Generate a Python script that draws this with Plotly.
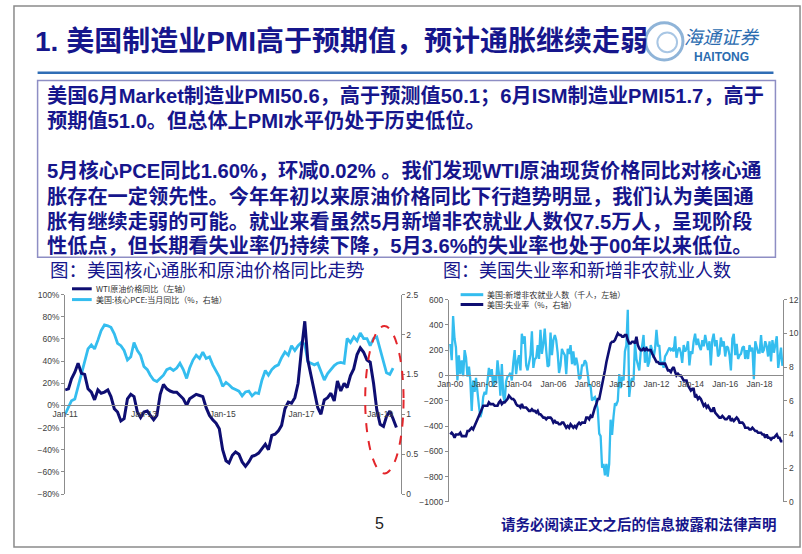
import pandas as pd
import plotly.graph_objects as go

# ---------------- data ----------------
wti_yoy = [14, 15, 24, 30, 38, 29, 28, 15, 12, 5, 14, 11,
           12, 14, 8, -3, -6, -14, -12, 6, 10, 8, -6, -11,
           -6, -5, -9, -13, -9, 10, 19, 15, 13, 12, 12, 9,
           6, 0, 6, 8, 10, 9, 8, -2, -9, -13, -16, -21,
           -40, -50, -52, -45, -42, -44, -51, -55, -51, -46, -45, -43,
           -39, -35, -40, -27, -26, -23, -18, -3, 3, 2, 7, 20,
           50, 76, 41, 26, 14, -2, -8, 5, 7, 11, 4, 22,
           13, 20, 16, 27, 33, 46, 52, 48, 41, 39, 20, -4,
           -17, -19, -10, -5, -12, -20]
core_pce = [1.00, 1.08, 1.17, 1.19, 1.35, 1.51, 1.68, 1.82, 1.87, 1.82, 1.93, 2.05,
            2.12, 2.11, 2.09, 2.01, 1.89, 1.86, 1.80, 1.68, 1.72, 1.90, 1.80, 1.74,
            1.60, 1.56, 1.49, 1.43, 1.41, 1.45, 1.49, 1.56, 1.58, 1.55, 1.58, 1.64,
            1.56, 1.45, 1.58, 1.68, 1.74, 1.70, 1.78, 1.70, 1.72, 1.62, 1.54, 1.47,
            1.35, 1.40, 1.37, 1.33, 1.31, 1.29, 1.23, 1.28, 1.29, 1.23, 1.27, 1.26,
            1.43, 1.55, 1.49, 1.56, 1.60, 1.62, 1.71, 1.78, 1.74, 1.86, 1.80, 1.86,
            1.90, 1.88, 1.66, 1.64, 1.62, 1.64, 1.54, 1.43, 1.51, 1.56, 1.61, 1.64,
            1.65, 1.64, 1.95, 1.90, 1.97, 1.92, 2.02, 1.95, 1.95, 1.86, 1.95, 1.97,
            1.82, 1.68, 1.52, 1.50, 1.58]
nfp = [250, 120, 470, 290, 220, -40, 160, 10, 120, -5, 200, 140,
       -10, 70, -30, -280, -40, -130, -20, -160, -240, -330, -290, -170,
       -130, -150, -20, 60, -10, 50, -90, 0, -60, 120, 10, -160,
       90, -160, -210, -50, -10, -1, 20, -40, 100, 200, 10, 110,
       160, 40, 330, 250, 310, 80, 40, 120, 160, 350, 60, 130,
       140, 240, 130, 360, 170, 250, 370, 200, 70, 80, 340, 160,
       280, 320, 280, 180, 20, 80, 210, 180, 160, 10, 210, 170,
       240, 90, 190, 80, 140, 80, -30, -20, 80, 80, 120, 100,
       10, -80, -80, -200, -180, -170, -210, -270, -460, -480, -730, -700,
       -790, -700, -800, -700, -350, -470, -330, -220, -230, -200, 10, -100,
       -10, -40, 190, 240, 520, -170, -60, -20, -40, 260, 130, 80,
       40, 190, 230, 320, 100, 230, 70, 110, 240, 200, 140, 210,
       360, 230, 240, 80, 110, 60, 150, 170, 190, 220, 200, 210,
       190, 310, 140, 200, 220, 180, 100, 240, 190, 210, 270, 80,
       190, 170, 270, 330, 240, 290, 230, 200, 280, 230, 320, 270,
       200, 270, 80, 280, 330, 230, 280, 150, 170, 300, 230, 270,
       150, 230, 220, 160, 40, 290, 330, 160, 250, 130, 160, 170,
       220, 230, 130, 200, 130, 240, 190, 220, -30, 270, 220, 180,
       180, 320, 180, 200, 270, 230, 150, 270, 110, 280, 180, 240,
       310, 60, 150, 220, 75]
unemp = [4.0, 4.1, 4.0, 3.8, 4.0, 4.0, 4.0, 4.1, 3.9, 3.9, 3.9, 3.9,
         4.2, 4.2, 4.3, 4.4, 4.3, 4.5, 4.6, 4.9, 5.0, 5.3, 5.5, 5.7,
         5.7, 5.7, 5.7, 5.9, 5.8, 5.8, 5.8, 5.7, 5.7, 5.7, 5.9, 6.0,
         5.8, 5.9, 5.9, 6.0, 6.1, 6.3, 6.2, 6.1, 6.1, 6.0, 5.8, 5.7,
         5.7, 5.6, 5.8, 5.6, 5.6, 5.6, 5.5, 5.4, 5.4, 5.5, 5.4, 5.4,
         5.3, 5.4, 5.2, 5.2, 5.1, 5.0, 5.0, 4.9, 5.0, 5.0, 5.0, 4.9,
         4.7, 4.8, 4.7, 4.7, 4.6, 4.6, 4.7, 4.7, 4.5, 4.4, 4.5, 4.4,
         4.6, 4.5, 4.4, 4.5, 4.4, 4.6, 4.7, 4.6, 4.7, 4.7, 4.7, 5.0,
         5.0, 4.9, 5.1, 5.0, 5.4, 5.6, 5.8, 6.1, 6.1, 6.5, 6.8, 7.3,
         7.8, 8.3, 8.7, 9.0, 9.4, 9.5, 9.5, 9.6, 9.8, 10.0, 9.9, 9.9,
         9.8, 9.8, 9.9, 9.9, 9.6, 9.4, 9.4, 9.5, 9.5, 9.4, 9.8, 9.3,
         9.1, 9.0, 9.0, 9.1, 9.0, 9.1, 9.0, 9.0, 9.0, 8.8, 8.6, 8.5,
         8.3, 8.3, 8.2, 8.2, 8.2, 8.2, 8.2, 8.0, 7.8, 7.8, 7.7, 7.9,
         8.0, 7.7, 7.5, 7.6, 7.5, 7.5, 7.3, 7.2, 7.2, 7.2, 6.9, 6.7,
         6.6, 6.7, 6.7, 6.2, 6.3, 6.1, 6.2, 6.1, 5.9, 5.7, 5.8, 5.6,
         5.7, 5.5, 5.4, 5.4, 5.6, 5.3, 5.2, 5.1, 5.0, 5.0, 5.1, 5.0,
         4.9, 4.9, 5.0, 5.1, 4.8, 4.9, 4.8, 4.9, 5.0, 4.9, 4.7, 4.7,
         4.7, 4.6, 4.4, 4.4, 4.4, 4.3, 4.3, 4.4, 4.3, 4.2, 4.2, 4.1,
         4.1, 4.1, 4.0, 4.0, 3.8, 4.0, 3.8, 3.8, 3.7, 3.8, 3.8, 3.9,
         4.0, 3.8, 3.8, 3.6, 3.6]

left_dates_wti = pd.date_range("2011-01-01", periods=len(wti_yoy), freq="MS")
left_dates_pce = pd.date_range("2011-01-01", periods=len(core_pce), freq="MS")
right_dates = pd.date_range("2000-01-01", periods=len(nfp), freq="MS")

title_text = "1. 美国制造业PMI高于预期值，预计通胀继续走弱"
body_lines = [
    "美国6月Market制造业PMI50.6，高于预测值50.1；6月ISM制造业PMI51.7，高于",
    "预期值51.0。但总体上PMI水平仍处于历史低位。",
    "",
    "5月核心PCE同比1.60%，环减0.02% 。我们发现WTI原油现货价格同比对核心通",
    "胀存在一定领先性。今年年初以来原油价格同比下行趋势明显，我们认为美国通",
    "胀有继续走弱的可能。就业来看虽然5月新增非农就业人数仅7.5万人，呈现阶段",
    "性低点，但长期看失业率仍持续下降，5月3.6%的失业率也处于00年以来低位。",
]
caption_left = "图：美国核心通胀和原油价格同比走势"
caption_right = "图：美国失业率和新增非农就业人数"
legend_left = ["WTI原油价格同比（左轴）", "美国:核心PCE:当月同比（%，右轴）"]
legend_right = ["美国:新增非农就业人数（千人，左轴）", "美国:失业率（%，右轴）"]
footer_note = "请务必阅读正文之后的信息披露和法律声明"
page_no = "5"

# ---------------- style ----------------
W, H = 802, 554
NAVY = "#0E0E72"
LIGHT = "#34BDEF"
TXTBLUE = "#16168C"
AXC = "#8C8C8C"
LAT = "Liberation Sans, Arial, Noto Sans CJK SC, sans-serif"
CJK = "Noto Sans CJK SC, sans-serif"


def X(px):
    return px / W


def Y(py):
    return 1 - py / H


fig = go.Figure()
fig.add_trace(go.Scatter(x=left_dates_pce, y=core_pce, xaxis="x", yaxis="y", mode="lines",
                         line=dict(color=LIGHT, width=2.8), name=legend_left[1]))
fig.add_trace(go.Scatter(x=left_dates_wti, y=wti_yoy, xaxis="x", yaxis="y2", mode="lines",
                         line=dict(color=NAVY, width=3), name=legend_left[0]))
fig.add_trace(go.Scatter(x=right_dates, y=nfp, xaxis="x2", yaxis="y3", mode="lines",
                         line=dict(color=LIGHT, width=2.3), name=legend_right[0]))
fig.add_trace(go.Scatter(x=right_dates, y=unemp, xaxis="x2", yaxis="y4", mode="lines",
                         line=dict(color=NAVY, width=2.6), name=legend_right[1]))

tickf = dict(family=LAT, size=8.5, color="#404040")
ldom = [Y(498), Y(295)]
rdom = [Y(506), Y(300)]
left_zero = ldom[0] + (80 / 180) * (ldom[1] - ldom[0])
right_zero = rdom[0] + (1000 / 1600) * (rdom[1] - rdom[0])

fig.update_layout(
    width=W, height=H, margin=dict(l=0, r=0, t=0, b=0),
    paper_bgcolor="white", plot_bgcolor="rgba(0,0,0,0)", showlegend=False,
    xaxis=dict(domain=[X(53), X(394)], type="date", range=["2011-01-01", "2019-07-10"],
               anchor="free", position=left_zero, showline=True, linecolor=AXC, linewidth=1,
               tickformat="%b-%y", dtick="M24", tick0="2011-01-01", ticks="",
               showgrid=False, zeroline=False, tickfont=tickf),
    yaxis=dict(domain=ldom, range=[0, 2.5], dtick=0.5, side="right", anchor="x",
               showline=True, linecolor=AXC, ticks="outside", ticklen=3, tickcolor=AXC,
               showgrid=False, zeroline=False, tickfont=tickf),
    yaxis2=dict(range=[-80, 100], dtick=20, ticksuffix="%", side="left", overlaying="y",
                anchor="x", showline=True, linecolor=AXC, ticks="outside", ticklen=3,
                tickcolor=AXC, showgrid=False, zeroline=False, tickfont=tickf),
    xaxis2=dict(domain=[X(443), X(783)], type="date", range=["1999-12-01", "2019-05-20"],
                anchor="free", position=right_zero, showline=True, linecolor=AXC, linewidth=1,
                tickformat="%b-%y", dtick="M24", tick0="2000-01-01", ticks="",
                showgrid=False, zeroline=False, tickfont=tickf),
    yaxis3=dict(domain=rdom, range=[-1000, 600], dtick=200, side="left", anchor="x2",
                showline=True, linecolor=AXC, ticks="outside", ticklen=3, tickcolor=AXC,
                showgrid=False, zeroline=False, tickfont=tickf),
    yaxis4=dict(range=[0, 12], dtick=2, side="right", overlaying="y3", anchor="x2",
                showline=True, linecolor=AXC, ticks="outside", ticklen=3, tickcolor=AXC,
                showgrid=False, zeroline=False, tickfont=tickf),
)

shapes = []
# slide frame
shapes.append(dict(type="rect", xref="paper", yref="paper", x0=X(1), x1=X(800), y0=Y(552), y1=Y(1),
                   line=dict(color="#8A8A8A", width=1.5)))
# title rule
shapes.append(dict(type="line", xref="paper", yref="paper", x0=X(25), x1=X(773), y0=Y(69), y1=Y(69),
                   line=dict(color="#2F6DB5", width=2.5)))
# text box
shapes.append(dict(type="rect", xref="paper", yref="paper", x0=X(25), x1=X(775), y0=Y(257), y1=Y(77),
                   line=dict(color="#8E8EC4", width=1.5)))
# logo rings
shapes.append(dict(type="circle", xref="paper", yref="paper", x0=X(643), x1=X(681), y0=Y(56), y1=Y(18),
                   line=dict(color="#8FB4D8", width=3)))
shapes.append(dict(type="circle", xref="paper", yref="paper", x0=X(655), x1=X(675), y0=Y(48), y1=Y(28),
                   line=dict(color="#A8C6E4", width=2)))
# red dashed ellipse
shapes.append(dict(type="circle", xref="paper", yref="paper", x0=X(358), x1=X(397), y0=Y(477), y1=Y(327),
                   line=dict(color="#E3262B", width=2, dash="dash")))
# legend lines
for (x0, x1, y, c) in [(60, 80, 289, NAVY), (60, 80, 300, LIGHT), (455, 478, 295, LIGHT), (455, 478, 305, NAVY)]:
    shapes.append(dict(type="line", xref="paper", yref="paper", x0=X(x0), x1=X(x1), y0=Y(y), y1=Y(y),
                       line=dict(color=c, width=3)))
fig.update_layout(shapes=shapes)

ann = []


def text(px, py, s, size, color, family=LAT, weight="normal", xanchor="left", style="normal"):
    ann.append(dict(x=X(px), y=Y(py), xref="paper", yref="paper", text=s, showarrow=False,
                    xanchor=xanchor, yanchor="middle", align="left",
                    font=dict(family=family, size=size, color=color, weight=weight, style=style)))


text(20, 37, title_text, 28, TXTBLUE, weight="bold")
text(680, 32, "海通证券", 18.5, "#2B6CB0", family=CJK, style="italic")
text(690, 53, "HAITONG", 12, "#2B6CB0", weight="bold")

ys = [92, 118, 143, 169, 195, 220, 245]
for s, yy in zip(body_lines, ys):
    if s:
        text(33, yy, s, 20.2, TXTBLUE, weight="bold")

text(36, 269, caption_left, 18.5, TXTBLUE, family=CJK)
text(435, 269, caption_right, 18, TXTBLUE, family=CJK)

text(82, 289, legend_left[0], 8, "#333333", family=CJK)
text(82, 300, legend_left[1], 8, "#333333", family=CJK)
text(480, 295, legend_right[0], 8, "#333333", family=CJK)
text(480, 305, legend_right[1], 8, "#333333", family=CJK)

text(373, 528, page_no, 16, "#222222", xanchor="center")
text(494, 528, footer_note, 14.5, TXTBLUE, family=CJK, weight="bold")

fig.update_layout(annotations=ann)
fig.write_html("out.html")
